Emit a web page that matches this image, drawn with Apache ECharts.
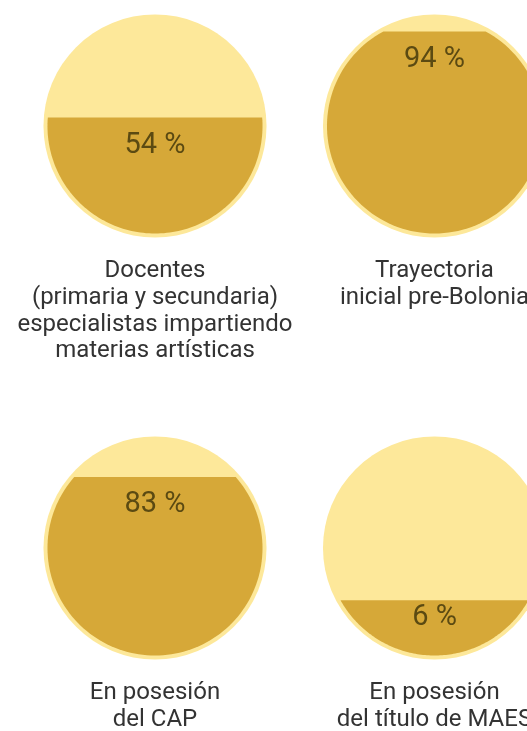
<!DOCTYPE html>
<html>
<head>
<meta charset="utf-8">
<script src="https://cdn.jsdelivr.net/npm/echarts@6/dist/echarts.min.js"></script>
<style>
html,body{margin:0;padding:0;background:#fff;}
#chart{width:527px;height:731px;}
</style>
</head>
<body>
<div id="chart"></div>
<script>
// Data
var categories = [
  "Docentes\n(primaria y secundaria)\nespecialistas impartiendo\nmaterias artísticas",
  "Trayectoria\ninicial pre-Bolonia",
  "En posesión\ndel CAP",
  "En posesión\ndel título de MAES"
];
var values = [54, 94, 83, 6];
var gridCols = [0, 1, 0, 1];
var gridRows = [0, 0, 1, 1];

// Styling
var LIGHT = '#FDE89A';
var DARK = '#D6A838';
var PCT_COLOR = '#5B4A12';
var LABEL_COLOR = '#333333';
var MIN_FILL = 25.7; // minimum visible fill so the percentage label fits

var data = values.map(function (v, i) {
  return [gridCols[i], gridRows[i], v, i];
});

function renderItem(params, api) {
  var c = api.coord([api.value(0), api.value(1)]);
  var cx = c[0], cy = c[1];
  var R = api.size([1, 0])[0] * 0.399;
  var ri = R - 4;
  var v = api.value(2);
  var idx = api.value(3);
  var f = Math.max(v, MIN_FILL) / 100;
  var chordY = cy + ri - 2 * ri * f;
  var d = chordY - cy;
  var a0 = Math.asin(Math.max(-1, Math.min(1, d / ri)));
  var pts = [];
  var n = 120;
  for (var k = 0; k <= n; k++) {
    var a = a0 + (Math.PI - 2 * a0) * k / n;
    pts.push([cx + ri * Math.cos(a), cy + ri * Math.sin(a)]);
  }
  var labelY = Math.min(chordY + 28, cy + ri - 38);
  return {
    type: 'group',
    children: [
      { type: 'circle', shape: { cx: cx, cy: cy, r: R }, style: { fill: LIGHT } },
      { type: 'polygon', shape: { points: pts }, style: { fill: DARK } },
      {
        type: 'text',
        style: {
          text: v + '\u00a0%',
          x: cx, y: labelY,
          fill: PCT_COLOR,
          font: '29px Roboto',
          align: 'center', verticalAlign: 'middle',
          textAlign: 'center', textVerticalAlign: 'middle'
        }
      },
      {
        type: 'text',
        style: {
          text: categories[idx],
          x: cx, y: cy + R + 20,
          fill: LABEL_COLOR,
          font: '24px Roboto',
          lineHeight: 26.8,
          align: 'center', verticalAlign: 'top',
          textAlign: 'center', textVerticalAlign: 'top'
        }
      }
    ]
  };
}

var chart = echarts.init(document.getElementById('chart'), null, { renderer: 'canvas' });
chart.setOption({
  animation: false,
  backgroundColor: '#ffffff',
  grid: { left: 155, top: 126, width: 279.5, height: 422 },
  xAxis: { type: 'value', min: 0, max: 1, show: false },
  yAxis: { type: 'value', min: 0, max: 1, inverse: true, show: false },
  series: [{
    type: 'custom',
    renderItem: renderItem,
    clip: false,
    data: data
  }]
});
</script>
</body>
</html>
